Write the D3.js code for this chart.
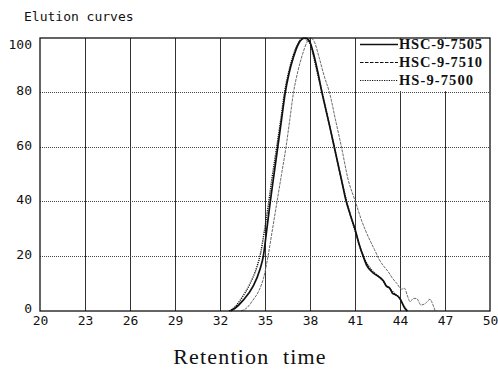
<!DOCTYPE html>
<html>
<head>
<meta charset="utf-8">
<script src="https://cdn.jsdelivr.net/npm/d3@7/dist/d3.min.js"></script>
<style>
  html, body { margin: 0; padding: 0; background: #fff; }
  svg { display: block; }
  .mono { font-family: "DejaVu Sans Mono", "Liberation Mono", monospace; fill: #111; }
</style>
</head>
<body>
<svg id="chart" width="498" height="371"></svg>
<script>
// Retention time axis ticks and intensity axis ticks
const xTicks = [20, 23, 26, 29, 32, 35, 38, 41, 44, 47, 50];
const yTicks = [0, 20, 40, 60, 80, 100];

// HSC-9-7505 (solid)
const hsc7505Time = [32.7, 33.0, 33.55, 34.2, 34.65, 34.9, 35.1, 35.35, 35.6, 35.85, 36.1, 36.35, 36.6, 36.9, 37.2, 37.45, 37.7, 37.95, 38.2, 38.5, 38.8, 39.3, 39.7, 40.1, 40.4, 40.7, 41.0, 41.3, 41.55, 41.8, 42.2, 42.6, 42.9, 43.1, 43.3, 43.5, 43.7, 44.0, 44.3, 44.5];
const hsc7505Value = [0, 1, 4, 9, 15, 20.5, 29, 40, 50, 60, 70, 80, 87, 93, 97.5, 99.5, 100, 99, 95, 88, 80, 68, 58, 48, 40.5, 35, 30, 24, 20, 16.5, 14, 12.5, 11, 9, 8.5, 6.5, 6, 4.5, 1.2, 0];

// HSC-9-7510 (dashed)
const hsc7510Time = [33.4, 33.8, 34.2, 34.6, 34.9, 35.2, 35.5, 35.8, 36.1, 36.4, 36.65, 36.9, 37.2, 37.5, 37.8, 38.05, 38.3, 38.6, 38.95, 39.3, 39.7, 40.1, 40.55, 41.0, 41.45, 41.9, 42.3, 42.6, 42.9, 43.2, 43.5, 43.8, 44.1, 44.3, 44.5, 44.67, 44.9, 45.1, 45.4, 45.7, 46.0, 46.2, 46.35];
const hsc7510Value = [0, 1.2, 4, 7.5, 12, 20, 30, 40, 50, 60, 70, 80, 88, 94, 98.5, 100, 98.5, 93, 86, 80, 70, 60, 48, 40.5, 33, 27, 22.5, 19, 16.5, 14.5, 12, 10, 8, 8.3, 5.5, 3.4, 4.6, 4.6, 2.2, 2.8, 4.3, 2.2, 0];

// HS-9-7500 (dotted)
const hs7500Time = [32.6, 33.0, 33.35, 34.0, 34.45, 34.7, 34.95, 35.2, 35.45, 35.75, 36.05, 36.3, 36.6, 36.9, 37.2, 37.5, 37.75, 38.0, 38.25, 38.5, 38.85, 39.3, 39.7, 40.1, 40.4, 40.7, 41.0, 41.3, 41.6, 41.9, 42.2, 42.5, 42.8, 43.0, 43.25, 43.45, 43.7, 43.95, 44.2, 44.45];
const hs7500Value = [0, 1.5, 4, 10, 16, 21, 29, 38, 48, 59, 70, 80, 88, 94, 98, 100, 99.5, 98, 93, 87, 79, 68, 58, 48, 41, 35, 29.5, 24, 19.5, 16.5, 14.5, 13, 11.5, 10, 8.5, 7.5, 6, 5, 2.5, 0];

const seriesNames = ["HSC-9-7505", "HSC-9-7510", "HS-9-7500"];

const series = [
  { name: seriesNames[0], t: hsc7505Time, v: hsc7505Value, stroke: "#111", width: 1.7, dash: null },
  { name: seriesNames[1], t: hsc7510Time, v: hsc7510Value, stroke: "#6a6a6a", width: 1, dash: "3,1" },
  { name: seriesNames[2], t: hs7500Time, v: hs7500Value, stroke: "#111", width: 1.4, dash: "1.2,1" }
];

const svg = d3.select("#chart");
const plotLeft = 40, plotRight = 490, plotTop = 38, plotBottom = 311;

const x = d3.scaleLinear().domain([20, 50]).range([plotLeft, plotRight]);
const y = d3.scaleLinear().domain([0, 100]).range([plotBottom, plotTop]);

// Title
svg.append("text").attr("class", "mono")
  .attr("x", 24).attr("y", 21)
  .style("font-size", "13px")
  .text("Elution curves");

// Vertical grid
svg.append("g").selectAll("line").data(xTicks.slice(1, -1)).join("line")
  .attr("x1", d => x(d)).attr("x2", d => x(d))
  .attr("y1", plotTop).attr("y2", plotBottom)
  .attr("stroke", "#333").attr("stroke-width", 1).attr("shape-rendering", "crispEdges");

// Horizontal grid (dotted)
svg.append("g").selectAll("line").data(yTicks.slice(1, -1)).join("line")
  .attr("x1", plotLeft).attr("x2", plotRight)
  .attr("y1", d => y(d)).attr("y2", d => y(d))
  .attr("stroke", "#444").attr("stroke-width", 1)
  .attr("stroke-dasharray", "1,1").attr("shape-rendering", "crispEdges");

// Legend layer sits above the grid, below the curves
const legendG = svg.append("g");

// Curves
const line = d3.line()
  .x(d => x(d[0])).y(d => y(d[1]))
  .curve(d3.curveMonotoneX);

svg.append("g").selectAll("path").data([series[1], series[2], series[0]]).join("path")
  .attr("d", s => line(s.t.map((t, i) => [t, s.v[i]])))
  .attr("fill", "none")
  .attr("stroke", s => s.stroke)
  .attr("stroke-width", s => s.width)
  .attr("stroke-dasharray", s => s.dash)
  .attr("stroke-linejoin", "round");

// Frame
svg.append("rect")
  .attr("x", plotLeft).attr("y", plotTop)
  .attr("width", plotRight - plotLeft).attr("height", plotBottom - plotTop)
  .attr("fill", "none").attr("stroke", "#111").attr("stroke-width", 1.3);

// Axes: labels only, no tick marks
const xAxis = d3.axisBottom(x).tickValues(xTicks).tickSize(0).tickPadding(4);
const gx = svg.append("g").attr("transform", `translate(0,${plotBottom})`).call(xAxis);
gx.select(".domain").remove();
gx.selectAll("text").attr("class", "mono").style("font-size", "13px").attr("fill", "#111")
  .attr("dy", "0.75em");

const yAxis = d3.axisLeft(y).tickValues(yTicks).tickSize(0).tickPadding(8);
const gy = svg.append("g").attr("transform", `translate(${plotLeft},0)`).call(yAxis);
gy.select(".domain").remove();
gy.selectAll("text").attr("class", "mono").style("font-size", "13px").attr("fill", "#111")
  .attr("dy", d => d === 100 ? "0.8em" : "0.15em");

// Legend
legendG.append("rect")
  .attr("x", x(41) + 1.5).attr("y", plotTop + 1)
  .attr("width", plotRight - x(41) - 2.5).attr("height", y(80) - plotTop - 2.5)
  .attr("fill", "#fff");

const legendRows = legendG.selectAll("g.row").data(series).join("g")
  .attr("class", "row")
  .attr("transform", (d, i) => `translate(0,${44.5 + i * 18})`);

legendRows.append("line")
  .attr("x1", 360).attr("x2", 398)
  .attr("y1", 0).attr("y2", 0)
  .attr("stroke", "#111")
  .attr("stroke-width", (d, i) => i === 0 ? 1.4 : 1.2)
  .attr("stroke-dasharray", (d, i) => i === 0 ? null : (i === 1 ? "3.5,1.5" : "1.2,1.2"));

legendRows.append("text")
  .attr("x", 399).attr("y", 4.5)
  .attr("font-family", "'Liberation Serif', 'Times New Roman', serif")
  .attr("font-weight", "bold")
  .attr("font-size", 14.5)
  .attr("fill", "#111")
  .attr("textLength", (d, i) => i === 2 ? 74 : 83)
  .attr("lengthAdjust", "spacing")
  .text(d => d.name);

// Axis title
svg.append("text")
  .attr("x", 250).attr("y", 364)
  .attr("text-anchor", "middle")
  .attr("font-family", "'Liberation Serif', 'Times New Roman', serif")
  .attr("font-size", 22)
  .attr("letter-spacing", 1.2)
  .attr("fill", "#111")
  .style("white-space", "pre")
  .text("Retention  time");
</script>
</body>
</html>
